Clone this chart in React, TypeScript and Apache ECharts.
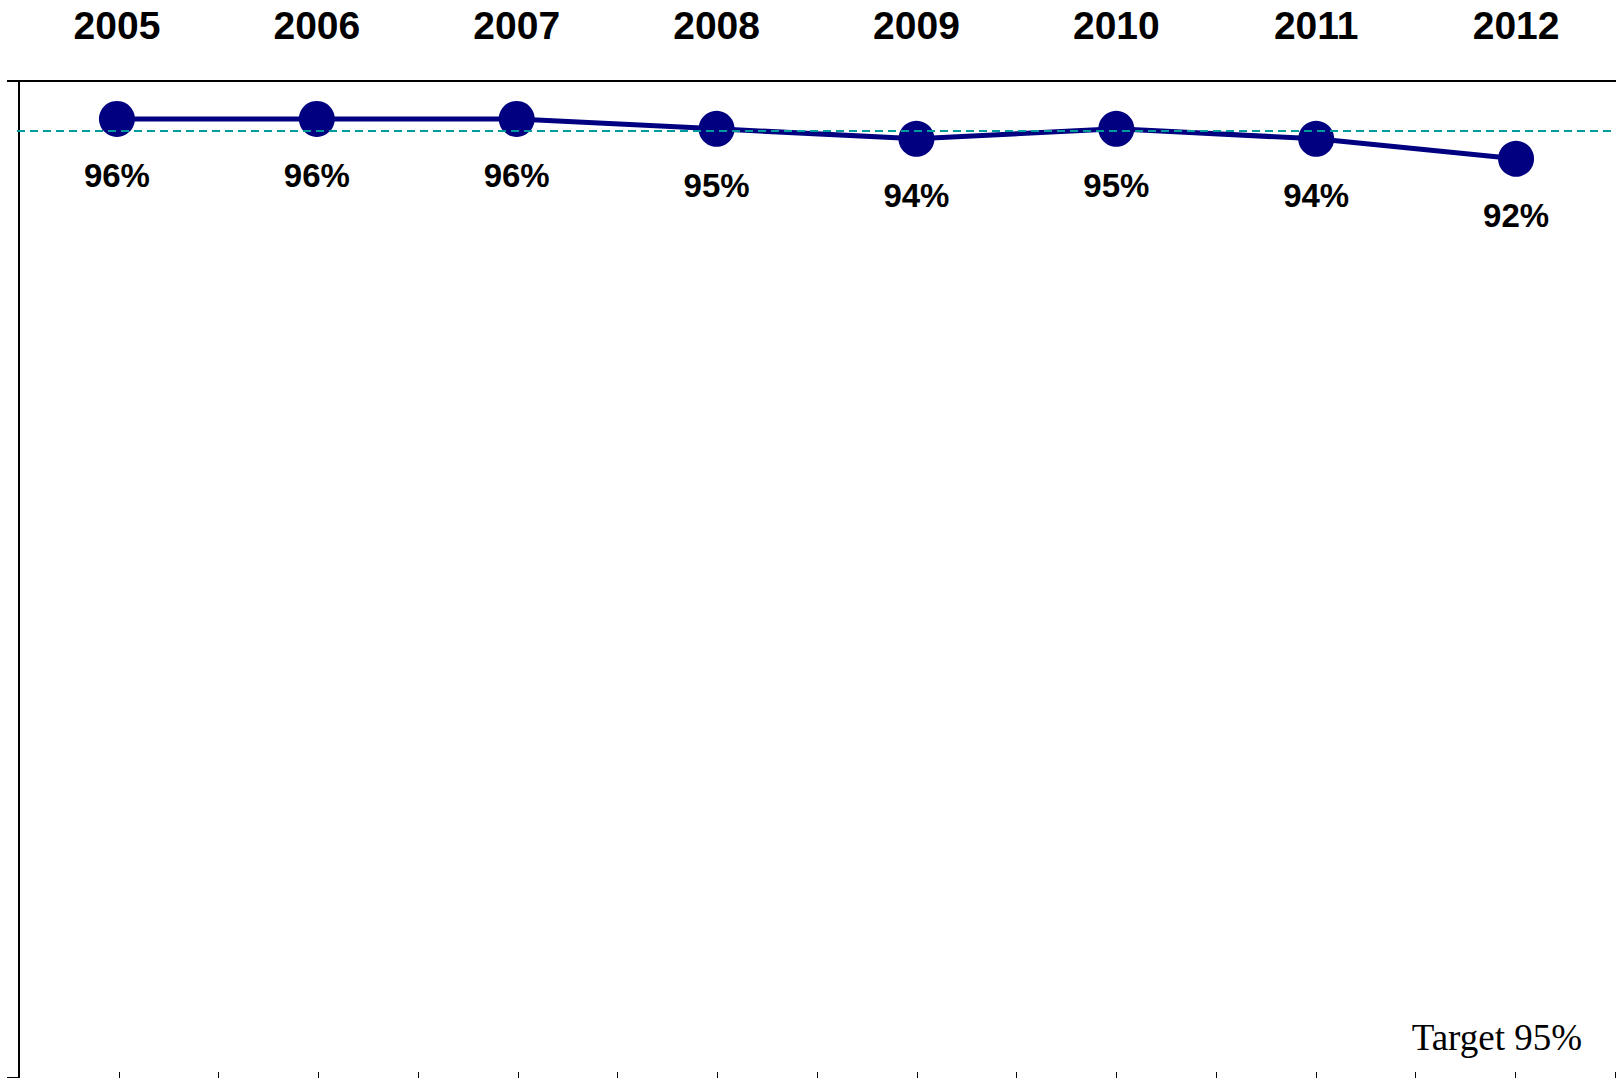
import React, { useEffect, useRef } from "react";
import * as echarts from "echarts";

const years = ["2005", "2006", "2007", "2008", "2009", "2010", "2011", "2012"];
const rates = [96.2, 96.2, 96.2, 95.2, 94.2, 95.2, 94.2, 92.2];
const target = 95;
const targetLabel = "Target 95%";
const bottomTicks = [0, 16, 1];

export default function App() {
  const ref = useRef<HTMLDivElement>(null);
  useEffect(() => {
    document.body.style.margin = "0";
    document.body.style.overflow = "hidden";
    const chart = echarts.init(ref.current!, undefined, { renderer: "svg" });
    chart.setOption({
      animation: false,
      backgroundColor: "#ffffff",
      grid: [
        { left: 17, top: 81, width: 1600, height: 1000, containLabel: false },
        { left: 19, top: 81, width: 1596, height: 1000, containLabel: false },
      ],
      xAxis: [
        {
          type: "category",
          gridIndex: 0,
          position: "top",
          data: years,
          boundaryGap: true,
          axisLine: { show: true, onZero: false, lineStyle: { color: "#000", width: 2 } },
          axisTick: { show: false },
          axisLabel: {
            show: true,
            margin: 56,
            fontSize: 39,
            fontWeight: "bold",
            color: "#000",
            fontFamily: "Liberation Sans, Arial, sans-serif",
            verticalAlign: "middle",
          },
          splitLine: { show: false },
        },
        {
          type: "value",
          gridIndex: 1,
          position: "bottom",
          min: bottomTicks[0],
          max: bottomTicks[1],
          interval: bottomTicks[2],
          axisLine: { show: true, onZero: false, lineStyle: { color: "#000", width: 1 } },
          axisTick: { show: true, inside: true, length: 6, lineStyle: { color: "#000", width: 1 } },
          axisLabel: { show: false },
          splitLine: { show: false },
        },
      ],
      yAxis: [
        {
          type: "value",
          gridIndex: 0,
          min: 0,
          max: 100,
          interval: 100,
          offset: -2,
          axisLine: { show: true, onZero: false, lineStyle: { color: "#000", width: 2 } },
          axisTick: { show: true, length: 12, lineStyle: { color: "#000", width: 2 } },
          axisLabel: { show: false },
          splitLine: { show: false },
        },
        {
          type: "value",
          gridIndex: 1,
          min: 0,
          max: 100,
          show: false,
        },
      ],
      series: [
        {
          type: "line",
          xAxisIndex: 0,
          yAxisIndex: 0,
          data: rates,
          symbol: "circle",
          symbolSize: 36,
          lineStyle: { color: "#000080", width: 5 },
          itemStyle: { color: "#000080" },
          label: {
            show: true,
            position: "bottom",
            distance: 22,
            fontSize: 33,
            fontWeight: "bold",
            color: "#000",
            fontFamily: "Liberation Sans, Arial, sans-serif",
            formatter: (p: any) => Math.round(p.value) + "%",
          },
          markLine: {
            silent: true,
            symbol: "none",
            label: { show: false },
            lineStyle: { color: "#009c9c", width: 2, type: [8, 5] },
            data: [{ yAxis: target }],
          },
          z: 3,
        },
      ],
      graphic: [
        {
          type: "text",
          right: 34,
          top: 1019,
          style: {
            text: targetLabel,
            fontSize: 37,
            fontFamily: "Liberation Serif, Times New Roman, serif",
            fill: "#000",
          },
        },
      ],
    });
    return () => chart.dispose();
  }, []);
  return <div ref={ref} style={{ width: 1616, height: 1078 }} />;
}
